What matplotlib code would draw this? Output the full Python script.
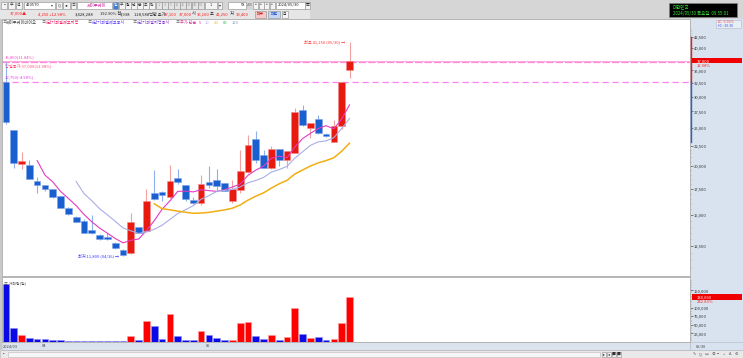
import numpy as np
import pandas as pd
import matplotlib.pyplot as plt
import matplotlib.transforms as mtransforms
from matplotlib.patches import Rectangle
from matplotlib.ticker import FixedLocator, NullFormatter, FuncFormatter

plt.rcParams['font.family'] = ['Noto Sans CJK KR', 'DejaVu Sans']

W, H = 743, 358

# daily candles, 2024/03/25 .. 2024/05/30
opens = [32700, 24700, 20250, 20050, 18250, 17850, 17450, 16750, 15600, 14850,
         14500, 13750, 13350, 13200, 12750, 12200, 12000, 13950, 13650, 17100,
         17200, 16700, 18650, 17850, 16400, 16050, 18200, 18400, 18050, 16250,
         17350, 19300, 23350, 21300, 19700, 22050, 20700, 21600, 27750, 24900,
         26300, 24050, 23050, 25250, 35100]
highs = [36750, 24700, 21650, 20700, 18750, 17900, 17500, 16800, 15700, 14900,
         14600, 15000, 13400, 13500, 12800, 12300, 15150, 14000, 17450, 19500,
         17300, 20100, 19600, 17900, 16700, 18950, 20000, 19600, 18100, 18400,
         21950, 23950, 24550, 21900, 22400, 22100, 21800, 28000, 28550, 25700,
         26950, 24200, 26150, 32750, 41250]
lows = [25500, 19800, 19600, 18500, 17100, 17300, 16600, 15600, 15000, 14400,
        13500, 13400, 12950, 12950, 12300, 11800, 11900, 13500, 13600, 16400,
        16250, 16600, 18000, 16300, 16000, 15900, 17550, 17300, 17250, 16100,
        17100, 19200, 20350, 19700, 19600, 20000, 19700, 21500, 25300, 23500,
        24100, 23700, 22950, 24800, 33400]
closes = [25900, 20350, 20550, 18500, 17850, 17450, 16650, 15600, 15050, 14400,
          13500, 13450, 13000, 13000, 12350, 11850, 14400, 13500, 16300, 16450,
          16850, 18300, 18150, 16450, 16050, 17950, 17850, 17750, 17300, 17450,
          19450, 22600, 20700, 19700, 22050, 20700, 21750, 27450, 25400, 25650,
          24200, 23800, 25200, 32750, 37000]
volumes = [169500, 39800, 20300, 11600, 8700, 8700, 6000, 4500, 3500, 3500,
           3800, 4000, 2500, 2500, 2500, 2800, 17400, 7000, 61000, 45600,
           8000, 81400, 16600, 7000, 4500, 32000, 19500, 11600, 4500, 6700,
           55200, 58100, 16600, 8000, 21300, 6700, 14500, 98000, 22400, 11600,
           13600, 7000, 8700, 53800, 130660]

month_labels = ['2024/03', '04', '05']
month_starts = [0, 5, 26]
price_ticks = [12500, 15000, 17500, 20000, 22500, 25000, 27500, 30000, 32500,
               35000, 40000, 42500]
vol_ticks = [25000, 50000, 75000, 100000, 150000]
ma_periods = [5, 10, 20, 60, 120]
ma_colors = ['#e23cc0', '#a9aee6', '#f2ae10', '#2fa84f', '#8a9ab8']

df = pd.DataFrame({'open': opens, 'high': highs, 'low': lows,
                   'close': closes, 'volume': volumes})
n = len(df)
x = np.arange(n)
up = df['close'] >= df['open']

fig = plt.figure(figsize=(W / 100, H / 100), dpi=100)
fig.patch.set_facecolor('white')


def rect(x0, y0, x1, y1, fc, ec='none', lw=0.4, z=-1):
    fig.add_artist(Rectangle((x0 / W, 1 - y1 / H), (x1 - x0) / W, (y1 - y0) / H,
                             transform=fig.transFigure, facecolor=fc,
                             edgecolor=ec, linewidth=lw, zorder=z))


def txt(x0, y0, s, color='#202020', size=3.0, ha='left', z=3, **kw):
    fig.text(x0 / W, 1 - y0 / H, s, color=color, fontsize=size, ha=ha,
             va='center', zorder=z, **kw)


def button(x0, x1, y0, y1, s, fc='#f4f4f4', tc='#303030', ec='#8c8c8c'):
    rect(x0, y0, x1, y1, fc, ec, 0.4, z=2)
    if s:
        txt((x0 + x1) / 2, (y0 + y1) / 2, s, tc, 2.8, ha='center')


# toolbar background
rect(0, 0, W, 19, '#d6d6d6')
rect(0, 9.5, 310, 18.5, '#e6e6e6')
rect(0, 19, 2, 350, '#c8c8c8')
# right axis panel, date strip, scroll bar
rect(690, 19, W, 350, '#d8e3ef')
rect(2, 342, 690, 350, '#dbe4ee', '#b0b8c4')
rect(0, 350, W, H, '#e9e9e9', '#a8a8a8')
rect(8, 351.5, 600, 356.5, '#f6f6f6', '#b8b8b8')

# toolbar row 1
button(1, 7, 1.5, 8.5, '▪')
button(8, 15, 1.5, 8.5, '주')
button(16, 22, 1.5, 8.5, '전')
button(24, 55, 1.5, 8.5, '', fc='white')
txt(26, 5, '420570', '#202020', 2.9)
txt(51, 5, '▾', '#404040', 2.8)
button(56, 62, 1.5, 8.5, 'Q')
button(63, 70, 1.5, 8.5, '◂▸')
button(71, 76, 1.5, 8.5, '≡')
button(77, 112, 1.5, 8.5, '', fc='white')
txt(87, 5, '제이투케이', '#d0209c', 3.0)
button(113, 118, 1.5, 8.5, '일', fc='#3c7ce0', tc='white')
for i, s in enumerate(['주', '월', '년', '분', '초', '틱']):
    button(119 + i * 6, 124.5 + i * 6, 1.5, 8.5, s)
for i, s in enumerate(['1', '3', '5', '10', '15', '30', '45', '60']):
    button(156 + i * 6, 161.5 + i * 6, 1.5, 8.5, s, fc='#e4e4e4', tc='#a0a0a0')
button(205, 217, 1.5, 8.5, '1')
button(218, 222, 1.5, 8.5, '▾')
button(228, 246, 1.5, 8.5, '', fc='white')
txt(245, 5, '58', '#202020', 2.9, ha='right')
txt(247, 5, '/45', '#606060', 2.8)
for i in range(4):
    button(253 + i * 5.5, 258 + i * 5.5, 1.5, 8.5, '▫')
button(276, 305, 1.5, 8.5, '', fc='white')
txt(278, 5, '2024/05/30', '#202020', 2.9)
button(305, 310, 1.5, 8.5, '▦')

# toolbar row 2
red = '#ff1a1a'
txt(10, 14, '37,000▲', red)
txt(38, 14, '4,250 +12.98%', red)
txt(75, 14, '3,428,288', '#202020')
txt(100, 14, '192.90% 천', '#202020')
txt(120, 14, '3,938', '#202020')
txt(134, 14, '128,588백만 호가', '#202020')
txt(164, 14, '37,100', red)
txt(179, 14, '37,000', red)
txt(192, 14, '시', '#202020')
txt(197, 14, '35,100', red)
txt(210, 14, '고', '#202020')
txt(216, 14, '41,250', red)
txt(230, 14, '저', '#202020')
txt(236, 14, '33,400', red)
button(255, 266, 10.5, 17.5, '매수', fc='#f7c8c8', tc='#c01010')
button(268, 280, 10.5, 17.5, '매도', fc='#c4d6f4', tc='#1040c0')
button(282, 288, 10.5, 17.5, '옵')

# clock box
rect(669, 3, 737, 17, 'black', '#808080', 0.5, z=2)
txt(673, 7, '대한민국', '#39e639', 3.2)
txt(673, 13.5, '2024/05/30 목요일  09:55:01', '#39e639', 3.2)
rect(716, 19.5, 741, 28, '#e8eef6', '#b0b8c8', 0.4, z=2)
txt(718, 22, 'LC:-3.92%', '#ff4040', 2.6)
txt(718, 26, 'HC:-10.30', '#3050e0', 2.6)

# legend row
txt(2, 22.5, '≡', '#606060')
txt(6, 22.5, '제이투케이바이오', '#404040')
txt(41, 22.5, '≡', '#606060')
txt(46, 22.5, '#단기과열예고지정', '#ee1c64')
txt(87, 22.5, '≡', '#606060')
txt(92, 22.5, '#단기과열예고공시', '#5a3ef0')
txt(132, 22.5, '≡', '#606060')
txt(137, 22.5, '#단기과열지정공시', '#8038d0')
txt(175, 22.5, '≡', '#606060')
txt(180, 22.5, '주가 단순', '#d0409c')
for i, (p, c) in enumerate(zip(ma_periods, ma_colors)):
    txt(199 + [0, 6, 15, 24, 33][i], 22.5, str(p), c)

# main price axes
ax = fig.add_axes([2 / W, 1 - 276 / H, 688 / W, 257 / H])
ax.set_yscale('log')
ax.set_xlim(-0.5, 87.6)
ax.set_ylim(10480, 47300)

wick_c = np.where(up, '#f3a2a2', '#8fb0ea')
body_c = np.where(up, '#e8190f', '#1a5fd0')
edge_c = np.where(up, '#f28a8a', '#7ea3ea')
ax.vlines(x, df['low'], df['high'], colors=wick_c, linewidth=0.8, zorder=2)
ax.bar(x, (df['close'] - df['open']).abs().clip(lower=60),
       bottom=df[['open', 'close']].min(axis=1), width=0.86,
       color=body_c, edgecolor=edge_c, linewidth=0.4, zorder=3)

for p, c in zip(ma_periods, ma_colors):
    ma = df['close'].rolling(p).mean()
    ax.plot(x, ma, color=c, linewidth=1.1 if p == 20 else 0.8, zorder=4)

bt = mtransforms.blended_transform_factory(ax.transAxes, ax.transData)

# reference lines
ax.axhline(36850, color='#ff8ad8', linewidth=0.9, dashes=(6, 1.5), zorder=1)
ax.axhline(37000, color='#ff9ad8', linewidth=0.6, zorder=1)
ax.axhline(32750, color='#ff80f0', linewidth=0.9, dashes=(5, 3), zorder=1)
ax.text(0.004, 37700, '36,850(11.84%)', color='#f050c8', fontsize=3.0,
        transform=bt, va='center')
ax.text(0.004, 35900, '당일종가 37,000(12.98%)', color='#ff4a7a', fontsize=3.0,
        transform=bt, va='center')
ax.text(0.004, 33550, '32,750(-4.98%)', color='#e040e0', fontsize=3.0,
        transform=bt, va='center')

# high / low marks
hi = int(df['high'].idxmax())
lo = int(df['low'].idxmin())
ax.text(hi - 0.55, df['high'][hi], '최고 41,250 (05/30) →', color='#ff3a3a',
        fontsize=3.0, ha='right', va='center')
ax.text(lo - 0.55, df['low'][lo], '최저 11,800 (04/16) →', color='#3a3aff',
        fontsize=3.0, ha='right', va='center')

ax.yaxis.tick_right()
ax.yaxis.set_major_locator(FixedLocator(price_ticks))
ax.yaxis.set_major_formatter(FuncFormatter(lambda v, _: f'{v:,.0f}'))
ax.yaxis.set_minor_locator(FixedLocator(list(range(11000, 45000, 500))))
ax.yaxis.set_minor_formatter(NullFormatter())
ax.tick_params(axis='y', which='major', labelsize=3.0, length=2, width=0.5,
               pad=1, colors='#505050', labelcolor='#303030')
ax.tick_params(axis='y', which='minor', length=1, width=0.4, colors='#808080')
ax.set_xticks([])
for s in ax.spines.values():
    s.set_color('#b4b4b4')
    s.set_linewidth(0.7)

# price range bar on axis edge (upper / lower limit from previous close)
prev_close = closes[-2]
ax.plot([1.0018, 1.0018], [42550, prev_close], color='#e82020', linewidth=1.0,
        transform=bt, clip_on=False, zorder=5)
ax.plot([1.0018, 1.0018], [prev_close, 22950], color='#3060d0', linewidth=1.0,
        transform=bt, clip_on=False, zorder=5)

# volume axes
axv = fig.add_axes([2 / W, 1 - 342 / H, 688 / W, 65 / H])
axv.set_xlim(-0.5, 87.6)
axv.set_ylim(0, 189000)
axv.bar(x, df['volume'], width=0.86,
        color=np.where(up, '#ff0000', '#0a0ae6'),
        edgecolor=np.where(up, '#ff9a9a', '#8a8af8'), linewidth=0.4)
axv.yaxis.tick_right()
axv.yaxis.set_major_locator(FixedLocator(vol_ticks))
axv.yaxis.set_major_formatter(FuncFormatter(lambda v, _: f'{v:,.0f}'))
axv.yaxis.set_minor_locator(FixedLocator(list(range(5000, 185000, 5000))))
axv.yaxis.set_minor_formatter(NullFormatter())
axv.tick_params(axis='y', which='major', labelsize=3.0, length=2, width=0.5,
                pad=1, colors='#505050', labelcolor='#303030')
axv.tick_params(axis='y', which='minor', length=1, width=0.4, colors='#808080')
axv.set_xticks([])
for s in axv.spines.values():
    s.set_color('#b4b4b4')
    s.set_linewidth(0.7)
axv.text(0.003, 0.9, '≡ 거래량(일)', color='#505050', fontsize=2.8,
         transform=axv.transAxes, va='center')


def value_box(axis, value, label, sub):
    # red value box spanning the right axis panel, at the value's height
    yp = H - axis.transData.transform((0, value))[1]
    rect(692, yp - 2.6, 742, yp + 2.6, '#f00000', z=5)
    txt(697, yp, label, 'white', 3.0, z=6)
    txt(697, yp + 5, sub, '#ff2020', 3.0, z=6)


value_box(ax, closes[-1], f'{closes[-1]:,}', '12.98%')
value_box(axv, volumes[-1], f'{volumes[-1]:,}', '242.83%')

# date strip
px = lambda i: 2 + (i + 0.5) * 688 / 88.1
for lab, st in zip(month_labels, month_starts):
    xs = px(st - 0.5) if st > 0 else 2
    rect(xs, 342, xs + 0.4, 350, '#98a4b4', z=2)
    txt(xs + 1.2, 346, lab, '#404040', 2.8)
txt(696, 346, '05/30', '#404040', 2.8)
rect(690, 342, W, 350, '#d8e3ef', '#b0b8c4', z=-0.5)

# scroll bar buttons
for i, s in enumerate(['▸', '◂', '■', '■']):
    button(602 + i * 5, 606 + i * 5, 351.5, 356.5, s, fc='#f0f0f0')
txt(2, 354, '▪', '#404040', 2.6)
for i, s in enumerate(['✎', 'Q', '▭', '⊕', '−', '+', 'A', '⚙']):
    txt(693 + i * 6, 354, s, '#505050', 2.8)

fig.savefig('out.png', dpi=100)
